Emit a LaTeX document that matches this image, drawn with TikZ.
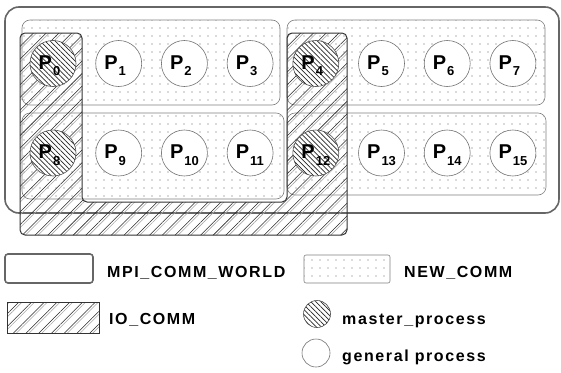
\documentclass[tikz,border=0pt]{standalone}
\usepackage{fontspec}
\setmainfont{Liberation Sans}
\usetikzlibrary{patterns.meta}
\newcommand{\plab}[1]{\makebox[0pt][r]{\fontsize{20}{20}\selectfont\bfseries P\kern1pt}\makebox[0pt][l]{\raisebox{-6.5pt}{\fontsize{13}{13}\selectfont\bfseries #1}}}
\tikzset{
  world/.style={draw=black!60, line width=1.6pt, rounded corners=14pt, fill=white},
  newc/.style={draw=black!50, line width=0.6pt, rounded corners=8pt, pattern={Dots[radius=0.65pt,distance=8pt]}, pattern color=black!60},
  iocomm/.style={preaction={pattern={Lines[angle=45,distance=9pt,line width=0.6pt,xshift=3pt]}, pattern color=black!35}, pattern={Lines[angle=45,distance=9pt,line width=0.55pt]}, pattern color=black!85, draw=black!80, line width=1pt, rounded corners=5pt},
  gen/.style={circle, draw=black!55, line width=0.6pt, fill=white, minimum size=46pt, inner sep=0pt, text height=14pt, text depth=3pt},
  mas/.style={circle, draw=black!70, line width=0.6pt, minimum size=46pt, inner sep=0pt, text height=14pt, text depth=3pt, preaction={fill=white}, pattern={Lines[angle=-45,distance=3.5pt,line width=0.7pt]}, pattern color=black!85},
  legtxt/.style={anchor=base west, inner sep=0pt, font={\fontsize{16}{16}\selectfont\bfseries\addfontfeature{LetterSpace=10}}},
}
\begin{document}
\begin{tikzpicture}[x=1pt,y=-1pt]
\useasboundingbox (0,0) rectangle (561,372);
% MPI_COMM_WORLD
\draw[world] (5,7) rectangle (559,213);
% NEW_COMM rows
\draw[newc] (22,20) rectangle (280,105);
\draw[newc] (287,20) rectangle (545,105);
\draw[newc] (22,113) rectangle (284,199);
\draw[newc] (287,113) rectangle (546,195);
% IO_COMM
\draw[iocomm] (20,33) -- (82,33) -- (82,202) -- (287,202) -- (287,33) -- (347,33) -- (347,235) -- (20,235) -- cycle;
% processes
\foreach \i in {0,...,7}{
  \pgfmathsetmacro{\cx}{53+65.7*\i}
  \pgfmathtruncatemacro{\j}{\i+8}
  \ifnum\i=0
    \node[mas] (p\i) at (\cx,63.5) {\plab{\i}};
    \node[mas] (p\j) at (\cx,153) {\plab{\j}};
  \else\ifnum\i=4
    \node[mas] (p\i) at (\cx,63.5) {\plab{\i}};
    \node[mas] (p\j) at (\cx,153) {\plab{\j}};
  \else
    \node[gen] (p\i) at (\cx,63.5) {\plab{\i}};
    \node[gen] (p\j) at (\cx,153) {\plab{\j}};
  \fi\fi
}
% legend
\draw[world, rounded corners=3pt] (5,254) rectangle (93,283);
\node[legtxt] (tworld) at (107,277) {MPI\_COMM\_WORLD};
\draw[newc, rounded corners=2pt] (304,255) rectangle (390,283);
\node[legtxt] (tnew) at (404,277) {NEW\_COMM};
\draw[iocomm, rounded corners=0pt] (7,302) rectangle (99,333);
\node[legtxt] (tio) at (109,324) {IO\_COMM};
\node[mas, minimum size=27pt] (lmas) at (317,314) {};
\node[legtxt] (tmas) at (342,324) {master\_process};
\node[gen, minimum size=28pt] (lgen) at (316,353) {};
\node[legtxt] (tgen) at (342,361) {general process};
\end{tikzpicture}
\end{document}
